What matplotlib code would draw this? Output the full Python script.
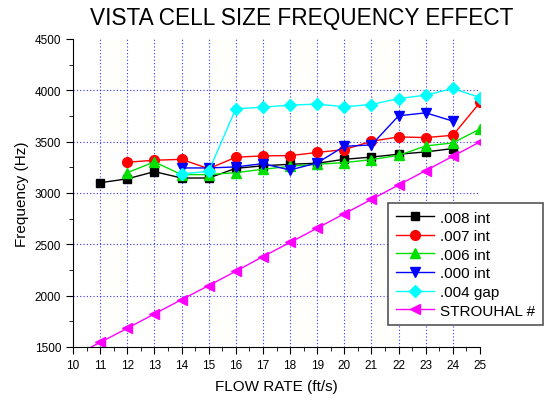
import numpy as np
import matplotlib.pyplot as plt
from matplotlib.ticker import MultipleLocator

plt.rcParams['font.family'] = ['Liberation Sans', 'DejaVu Sans']

# dados
x_008 = [11, 12, 13, 14, 15, 16, 17, 18, 19, 20, 21, 22, 23, 24]
f_008 = [3100, 3138, 3208, 3146, 3146, 3240, 3265, 3280, 3290, 3328, 3350, 3378, 3400, 3433]

x_007 = [12, 13, 14, 15, 16, 17, 18, 19, 20, 21, 22, 23, 24, 25]
f_007 = [3300, 3319, 3328, 3237, 3348, 3362, 3364, 3395, 3423, 3504, 3546, 3540, 3562, 3882]

x_006 = [12, 13, 14, 15, 16, 17, 18, 19, 20, 21, 22, 23, 24, 25]
f_006 = [3198, 3303, 3179, 3179, 3198, 3231, 3260, 3280, 3296, 3325, 3367, 3458, 3488, 3624]

x_000 = [14, 15, 16, 17, 18, 19, 20, 21, 22, 23, 24]
f_000 = [3244, 3244, 3254, 3286, 3224, 3293, 3455, 3468, 3752, 3781, 3700]

x_gap = [14, 15, 16, 17, 18, 19, 20, 21, 22, 23, 24, 25]
f_gap = [3186, 3211, 3820, 3836, 3856, 3866, 3840, 3862, 3920, 3953, 4018, 3930]

x_st = [10, 11, 12, 13, 14, 15, 16, 17, 18, 19, 20, 21, 22, 23, 24, 25]
f_st = [1405, 1545, 1682, 1822, 1961, 2098, 2238, 2381, 2518, 2658, 2798, 2938, 3078, 3218, 3358, 3498]

series = [
    (x_008, f_008, "black", "s", ".008 int"),
    (x_007, f_007, "red", "o", ".007 int"),
    (x_006, f_006, "#00e000", "^", ".006 int"),
    (x_000, f_000, "blue", "v", ".000 int"),
    (x_gap, f_gap, "cyan", "D", ".004 gap"),
    (x_st, f_st, "magenta", "<", "STROUHAL #"),
]

fig = plt.figure(figsize=(5.54, 4.02), dpi=100)
ax = fig.add_axes([73/554, 1 - 348/402, (480-73)/554, (348-40)/402])

ax.set_xlim(10, 25)
ax.set_ylim(1500, 4500)

# grade pontilhada azul
for gx in range(11, 25):
    ax.axvline(gx, color="blue", ls=(0, (1, 2)), lw=0.8, alpha=0.8, zorder=0)
for gy in range(2000, 4500, 500):
    ax.axhline(gy, color="blue", ls=(0, (1, 2)), lw=0.8, alpha=0.8, zorder=0)

for xs, ys, cor, mk, nome in series:
    ms = 6 if mk in ("s", "D") else 7
    ax.plot(xs, ys, color=cor, marker=mk, markersize=ms, lw=1, label=nome)

ax.spines["top"].set_visible(False)
ax.spines["right"].set_visible(False)
ax.xaxis.set_major_locator(MultipleLocator(1))
ax.xaxis.set_minor_locator(MultipleLocator(0.5))
ax.yaxis.set_major_locator(MultipleLocator(500))
ax.yaxis.set_minor_locator(MultipleLocator(250))
ax.tick_params(which="major", direction="out", length=5, labelsize=8.5)
ax.tick_params(which="minor", direction="out", length=3)

ax.set_xlabel("FLOW RATE (ft/s)", fontsize=11, labelpad=6)
ax.set_ylabel("Frequency (Hz)", fontsize=11, labelpad=4)

fig.text(302/554, 1 - 18/402, "VISTA CELL SIZE FREQUENCY EFFECT",
         ha="center", va="center", fontsize=16.3)

leg = ax.legend(loc="upper left", bbox_to_anchor=(388/554, 1 - 204/402),
                bbox_transform=fig.transFigure, borderaxespad=0,
                fancybox=False, framealpha=1, edgecolor="#555555",
                fontsize=11, handlelength=2.5, labelspacing=0.3,
                borderpad=0.5, handletextpad=0.4)
leg.get_frame().set_linewidth(1.2)

fig.savefig("out.png", dpi=100)
